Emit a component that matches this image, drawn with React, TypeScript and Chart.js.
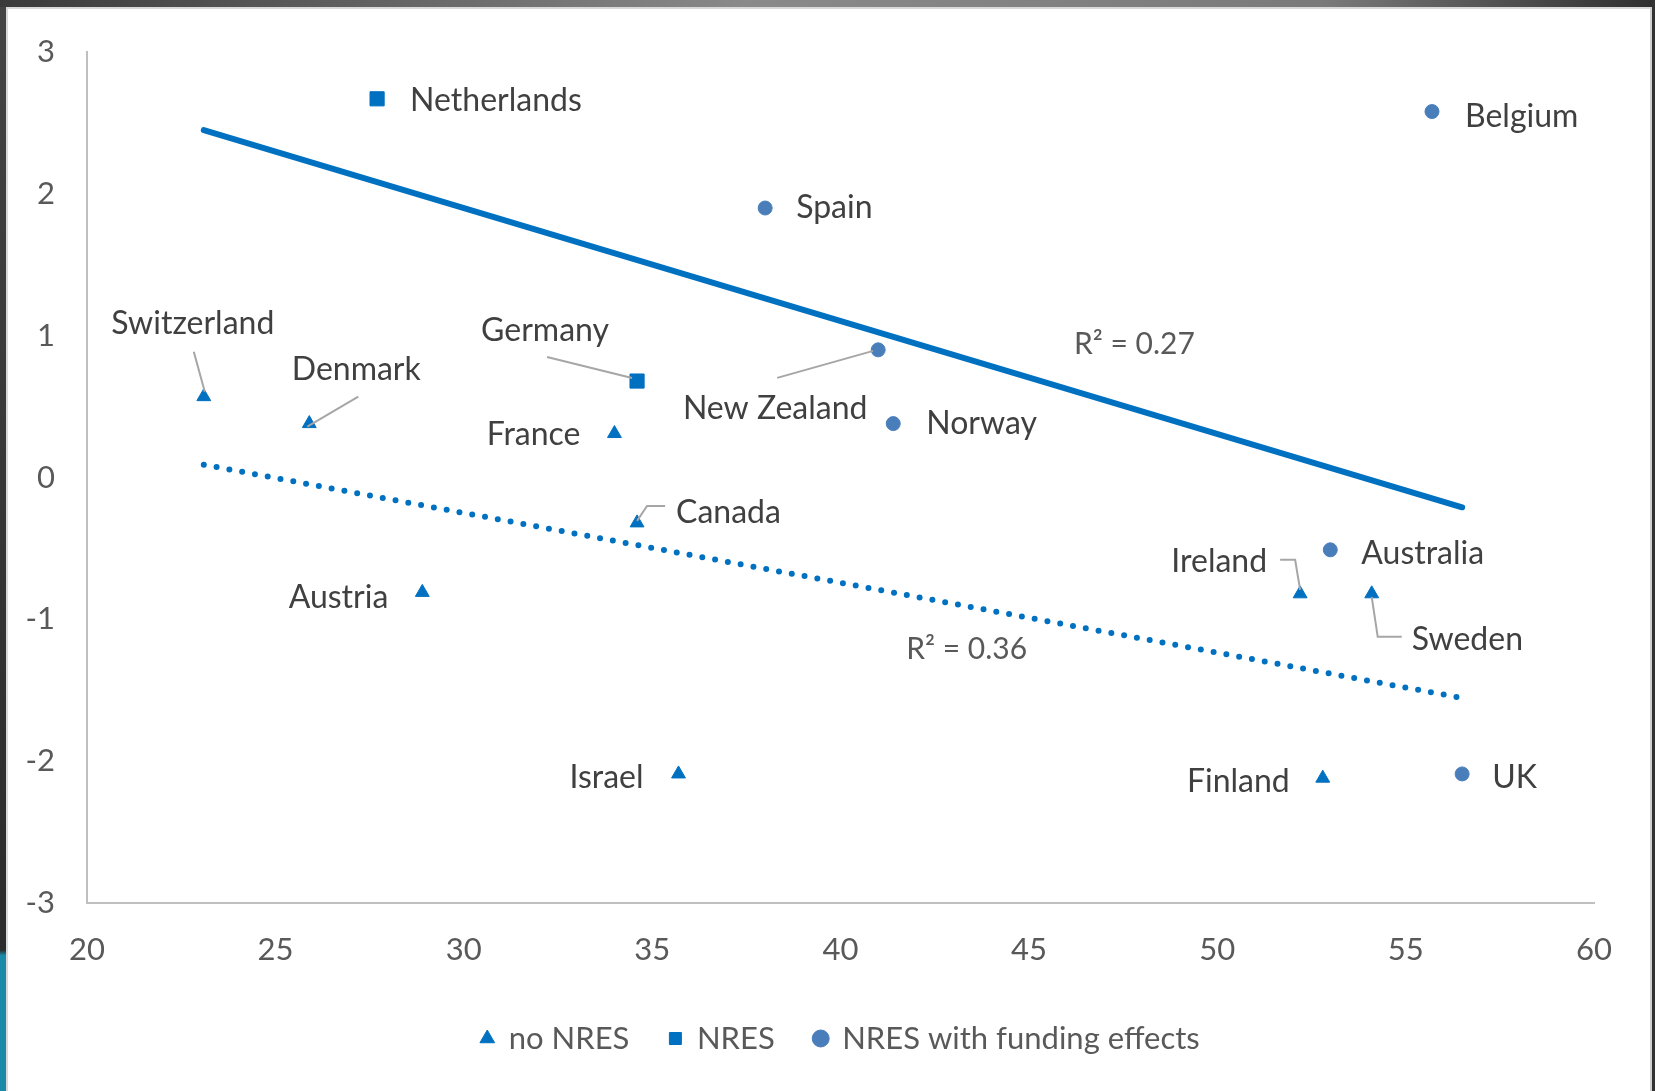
import React, { useEffect, useRef } from "react";
import { Chart, registerables } from "chart.js";

Chart.register(...registerables);

// ---- data ----
const noNresNames = ["Switzerland", "Denmark", "France", "Canada", "Austria", "Israel", "Ireland", "Sweden", "Finland"];
const noNresX = [23.1, 25.9, 34.0, 34.6, 28.9, 35.7, 52.2, 54.1, 52.8];
const noNresY = [0.57, 0.38, 0.31, -0.32, -0.81, -2.09, -0.82, -0.82, -2.12];

const nresNames = ["Netherlands", "Germany"];
const nresX = [27.7, 34.6];
const nresY = [2.67, 0.68];

const fundNames = ["Belgium", "Spain", "New Zealand", "Norway", "Australia", "UK"];
const fundX = [55.7, 38.0, 41.0, 41.4, 53.0, 56.5];
const fundY = [2.58, 1.9, 0.9, 0.38, -0.51, -2.09];

const trendAllX = [23.1, 56.5];
const trendAllY = [2.45, -0.21];
const trendNoX = [23.1, 56.4];
const trendNoY = [0.09, -1.55];

const r2Texts = ["R² = 0.27", "R² = 0.36"];
const r2X = [47.8, 43.35];
const r2Y = [0.94, -1.21];

const seriesLabels = ["no NRES", "NRES", "NRES with funding effects"];
const xMin = 20, xMax = 60, xStep = 5;
const yMin = -3, yMax = 3, yStep = 1;

// ---- label layout (pixel offsets from the point) ----
type LabelLayout = { dx: number; dy: number; align: CanvasTextAlign; leader?: number[][] };
const labelLayout: Record<string, LabelLayout> = {
  Netherlands: { dx: 33, dy: 2, align: "left" },
  Belgium: { dx: 33, dy: 5, align: "left" },
  Spain: { dx: 31, dy: 0, align: "left" },
  Norway: { dx: 33, dy: 0, align: "left" },
  Australia: { dx: 31, dy: 4, align: "left" },
  UK: { dx: 30, dy: 4, align: "left" },
  Finland: { dx: -33, dy: 4, align: "right" },
  Israel: { dx: -35, dy: 4, align: "right" },
  Austria: { dx: -34, dy: 5, align: "right" },
  France: { dx: -34, dy: 1, align: "right" },
  Canada: { dx: 39, dy: -10, align: "left", leader: [[0, -2], [10, -17], [28, -17]] },
  Germany: { dx: -92, dy: -50, align: "center", leader: [[-90, -24], [-5, -3]] },
  "New Zealand": { dx: -103, dy: 59, align: "center", leader: [[-101, 28], [-5, 1]] },
  Switzerland: { dx: -11, dy: -73, align: "center", leader: [[-10, -45], [1, -5]] },
  Denmark: { dx: 47, dy: -54, align: "center", leader: [[49, -27], [-2, 3]] },
  Ireland: { dx: -33, dy: -32, align: "right", leader: [[-20, -34], [-5, -34], [0, -4]] },
  Sweden: { dx: 40, dy: 46, align: "left", leader: [[0, 3], [6, 43], [30, 43]] },
};

const FONT = "Lato";
const BLUE = "#0070C0";
const CIRCLE = "#4A7EBB";

const toPts = (xs: number[], ys: number[]) => xs.map((x, i) => ({ x, y: ys[i] }));

const labelPlugin = {
  id: "pointLabels",
  afterDatasetsDraw(chart: any) {
    const ctx = chart.ctx as CanvasRenderingContext2D;
    const nameSets = [noNresNames, nresNames, fundNames];
    ctx.save();
    nameSets.forEach((names, di) => {
      const meta = chart.getDatasetMeta(di);
      names.forEach((name, i) => {
        const el = meta.data[i];
        if (!el) return;
        const lay = labelLayout[name];
        if (!lay) return;
        const px = el.x, py = el.y;
        if (lay.leader) {
          ctx.beginPath();
          ctx.strokeStyle = "#A6A6A6";
          ctx.lineWidth = 2;
          lay.leader.forEach((p, k) => {
            if (k === 0) ctx.moveTo(px + p[0], py + p[1]);
            else ctx.lineTo(px + p[0], py + p[1]);
          });
          ctx.stroke();
        }
        ctx.fillStyle = "#404040";
        ctx.font = `32px ${FONT}`;
        ctx.textAlign = lay.align;
        ctx.textBaseline = "middle";
        ctx.fillText(name, px + lay.dx, py + lay.dy);
      });
    });
    const xs = chart.scales.x, ys = chart.scales.y;
    ctx.fillStyle = "#595959";
    ctx.font = `30px ${FONT}`;
    ctx.textAlign = "center";
    ctx.textBaseline = "middle";
    r2Texts.forEach((t, i) => {
      ctx.fillText(t, xs.getPixelForValue(r2X[i]), ys.getPixelForValue(r2Y[i]));
    });
    ctx.restore();
  },
};

export default function App() {
  const ref = useRef<HTMLCanvasElement | null>(null);
  useEffect(() => {
    if (!ref.current) return;
    const chart = new Chart(ref.current, {
      type: "scatter",
      data: {
        datasets: [
          {
            label: seriesLabels[0],
            data: toPts(noNresX, noNresY),
            pointStyle: "triangle",
            pointRadius: 8,
            backgroundColor: BLUE,
            borderColor: BLUE,
            borderWidth: 1,
            order: 1,
          },
          {
            label: seriesLabels[1],
            data: toPts(nresX, nresY),
            pointStyle: "rect",
            pointRadius: 10,
            backgroundColor: BLUE,
            borderColor: BLUE,
            borderWidth: 1,
            order: 1,
          },
          {
            label: seriesLabels[2],
            data: toPts(fundX, fundY),
            pointStyle: "circle",
            pointRadius: 7,
            backgroundColor: CIRCLE,
            borderColor: CIRCLE,
            borderWidth: 1,
            order: 1,
          },
          {
            label: "trend all",
            data: toPts(trendAllX, trendAllY),
            showLine: true,
            pointRadius: 0,
            borderColor: BLUE,
            borderWidth: 6,
            borderCapStyle: "round",
            order: 2,
          } as any,
          {
            label: "trend no NRES",
            data: toPts(trendNoX, trendNoY),
            showLine: true,
            pointRadius: 0,
            borderColor: BLUE,
            borderWidth: 6,
            borderCapStyle: "round",
            borderDash: [0, 13],
            order: 2,
          } as any,
        ],
      },
      options: {
        animation: false,
        responsive: false,
        devicePixelRatio: 1,
        layout: { padding: { left: 0, top: 52, right: 61, bottom: 27 } },
        scales: {
          x: {
            type: "linear",
            min: xMin,
            max: xMax,
            grid: { display: false, drawTicks: false },
            border: { display: true, color: "#BFBFBF", width: 2 },
            ticks: { stepSize: xStep, padding: 28, color: "#595959", font: { family: FONT, size: 31 } },
            afterFit: (s: any) => {
              s.height = 80;
            },
          },
          y: {
            type: "linear",
            min: yMin,
            max: yMax,
            grid: { display: false, drawTicks: false },
            border: { display: true, color: "#BFBFBF", width: 2 },
            ticks: { stepSize: yStep, padding: 32, color: "#595959", font: { family: FONT, size: 31 } },
            afterFit: (s: any) => {
              s.width = 87;
            },
          },
        },
        plugins: {
          tooltip: { enabled: false },
          legend: {
            position: "bottom",
            fullSize: false,
            labels: {
              usePointStyle: true,
              boxHeight: 12,
              boxWidth: 12,
              padding: 40,
              color: "#595959",
              font: { family: FONT, size: 31 },
              filter: (item: any) => item.datasetIndex < 3,
            },
          },
        },
      } as any,
      plugins: [labelPlugin],
    });
    return () => chart.destroy();
  }, []);

  return (
    <div
      style={{
        position: "absolute",
        left: 0,
        top: 0,
        width: 1655,
        height: 1091,
        overflow: "hidden",
        background: "#FFFFFF",
      }}
    >
      <div
        style={{
          position: "absolute",
          left: 0,
          top: 0,
          width: 1655,
          height: 7,
          background: "linear-gradient(to right, #3a3a3a 0%, #8a8a8a 45%, #7a7a7a 80%, #2e2e2e 100%)",
        }}
      />
      <div style={{ position: "absolute", left: 0, top: 7, width: 1655, height: 2, background: "#D9D9D9" }} />
      <div
        style={{
          position: "absolute",
          left: 0,
          top: 7,
          width: 6,
          height: 1084,
          background: "linear-gradient(to bottom, #444 0%, #2b2b2b 87%, #1a8aa8 87.5%, #1a8aa8 100%)",
        }}
      />
      <div style={{ position: "absolute", left: 6, top: 7, width: 2, height: 1084, background: "#D9D9D9" }} />
      <div style={{ position: "absolute", left: 1650, top: 7, width: 2, height: 1084, background: "#D0D0D0" }} />
      <div style={{ position: "absolute", left: 1652, top: 0, width: 3, height: 1091, background: "#333" }} />
      <canvas
        ref={ref}
        width={1655}
        height={1091}
        style={{ position: "absolute", left: 0, top: 0, width: 1655, height: 1091 }}
      />
    </div>
  );
}
